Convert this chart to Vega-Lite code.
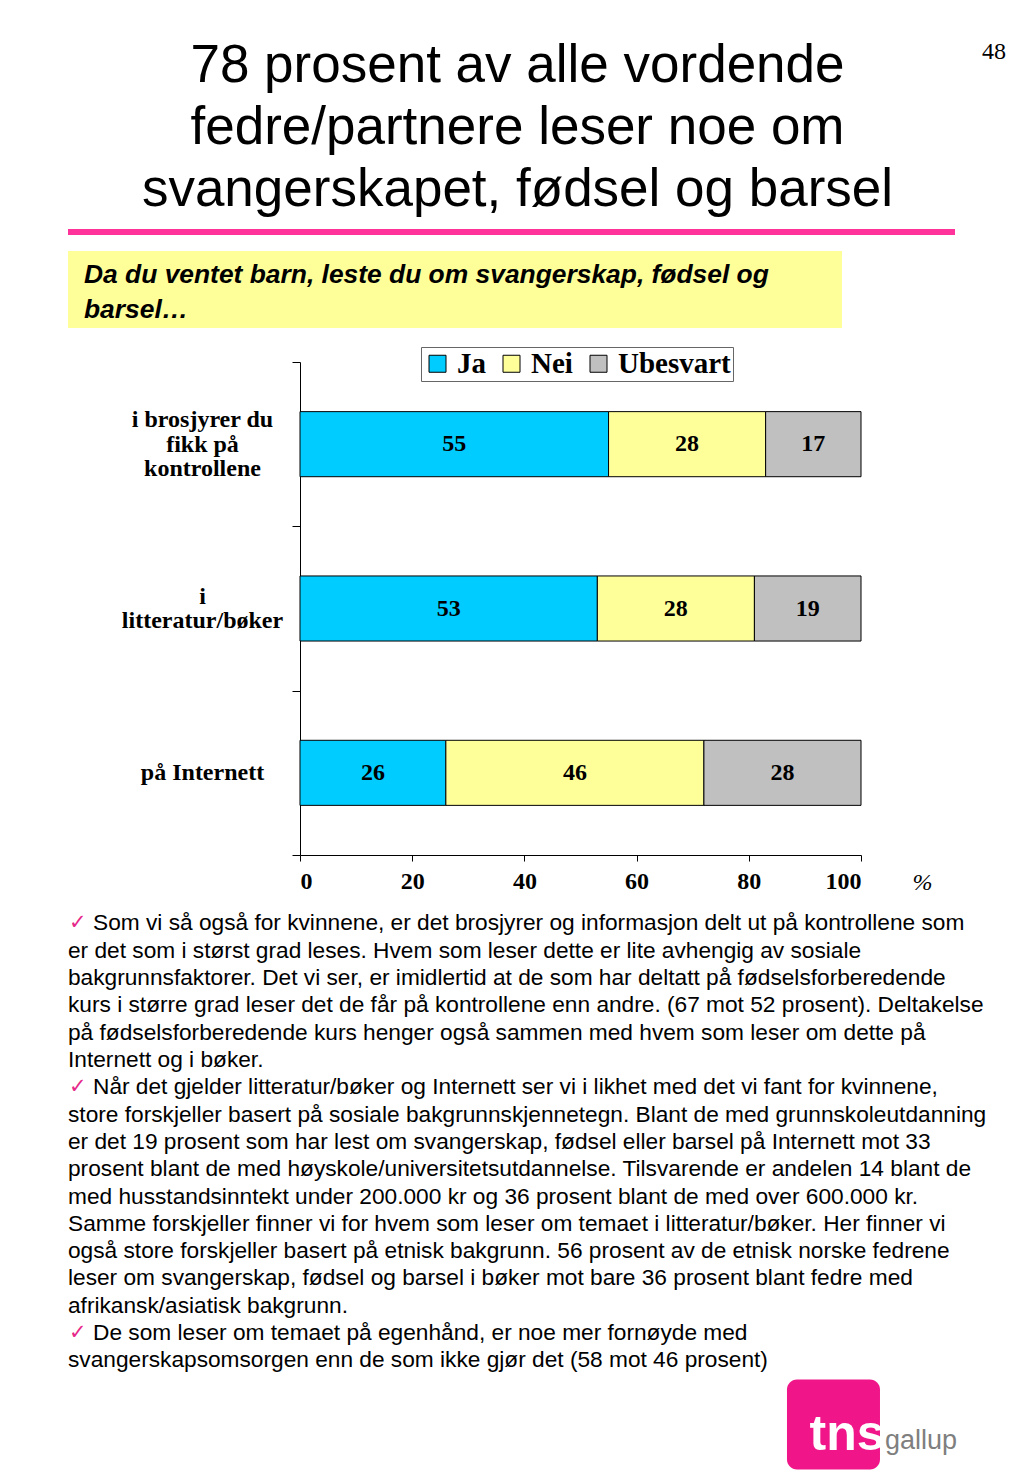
{
  "$schema": "https://vega.github.io/schema/vega-lite/v6.json",
  "background": "white",
  "padding": {"left": 68, "top": 40, "right": 0, "bottom": 0},
  "title": {"text": "48", "orient": "right", "anchor": "start", "angle": 0, "align": "left", "baseline": "top", "font": "Liberation Serif", "fontSize": 24, "fontWeight": "normal", "color": "black", "offset": -30},
  "config": {"view": {"stroke": null}},
  "datasets": {
    "bars": [
      {"category": "i brosjyrer du fikk på kontrollene", "response": "Ja", "value": 55},
      {"category": "i brosjyrer du fikk på kontrollene", "response": "Nei", "value": 28},
      {"category": "i brosjyrer du fikk på kontrollene", "response": "Ubesvart", "value": 17},
      {"category": "i litteratur/bøker", "response": "Ja", "value": 53},
      {"category": "i litteratur/bøker", "response": "Nei", "value": 28},
      {"category": "i litteratur/bøker", "response": "Ubesvart", "value": 19},
      {"category": "på Internett", "response": "Ja", "value": 26},
      {"category": "på Internett", "response": "Nei", "value": 46},
      {"category": "på Internett", "response": "Ubesvart", "value": 28}
    ],
    "prompt": [
      {"line": 1, "text": "Da du ventet barn, leste du om svangerskap, fødsel og"},
      {"line": 2, "text": "barsel…"}
    ],
    "notes": [
      {"line": 1, "bullet": true, "text": "Som vi så også for kvinnene, er det brosjyrer og informasjon delt ut på kontrollene som"},
      {"line": 2, "bullet": false, "text": "er det som i størst grad leses. Hvem som leser dette er lite avhengig av sosiale"},
      {"line": 3, "bullet": false, "text": "bakgrunnsfaktorer. Det vi ser, er imidlertid at de som har deltatt på fødselsforberedende"},
      {"line": 4, "bullet": false, "text": "kurs i større grad leser det de får på kontrollene enn andre. (67 mot 52 prosent). Deltakelse"},
      {"line": 5, "bullet": false, "text": "på fødselsforberedende kurs henger også sammen med hvem som leser om dette på"},
      {"line": 6, "bullet": false, "text": "Internett og i bøker."},
      {"line": 7, "bullet": true, "text": "Når det gjelder litteratur/bøker og Internett ser vi i likhet med det vi fant for kvinnene,"},
      {"line": 8, "bullet": false, "text": "store forskjeller basert på sosiale bakgrunnskjennetegn. Blant de med grunnskoleutdanning"},
      {"line": 9, "bullet": false, "text": "er det 19 prosent som har lest om svangerskap, fødsel eller barsel på Internett mot 33"},
      {"line": 10, "bullet": false, "text": "prosent blant de med høyskole/universitetsutdannelse. Tilsvarende er andelen 14 blant de"},
      {"line": 11, "bullet": false, "text": "med husstandsinntekt under 200.000 kr og 36 prosent blant de med over 600.000 kr."},
      {"line": 12, "bullet": false, "text": "Samme forskjeller finner vi for hvem som leser om temaet i litteratur/bøker. Her finner vi"},
      {"line": 13, "bullet": false, "text": "også store forskjeller basert på etnisk bakgrunn. 56 prosent av de etnisk norske fedrene"},
      {"line": 14, "bullet": false, "text": "leser om svangerskap, fødsel og barsel i bøker mot bare 36 prosent blant fedre med"},
      {"line": 15, "bullet": false, "text": "afrikansk/asiatisk bakgrunn."},
      {"line": 16, "bullet": true, "text": "De som leser om temaet på egenhånd, er noe mer fornøyde med"},
      {"line": 17, "bullet": false, "text": "svangerskapsomsorgen enn de som ikke gjør det (58 mot 46 prosent)"}
    ],
    "logo": [
      {"brand": "tns", "suffix": "gallup"}
    ]
  },
  "resolve": {"scale": {"color": "independent"}, "legend": {"color": "independent"}},
  "spacing": 18,
  "vconcat": [
    {
      "spacing": 14,
      "vconcat": [
        {
          "width": 887,
          "height": 6,
          "view": {"fill": "#FF3399", "stroke": null},
          "title": {
            "text": ["78 prosent av alle vordende", "fedre/partnere leser noe om", "svangerskapet, fødsel og barsel"],
            "anchor": "middle", "frame": "group", "font": "Liberation Sans", "fontSize": 53, "fontWeight": "normal",
            "lineHeight": 62, "offset": 9, "dx": 6, "color": "black"
          },
          "data": {"values": [{"t": ""}]},
          "mark": {"type": "text"},
          "encoding": {"text": {"field": "t"}}
        },
        {
          "width": 774,
          "height": 77,
          "view": {"fill": "#FFFF99", "stroke": null},
          "data": {"name": "prompt"},
          "mark": {"type": "text", "align": "left", "baseline": "middle", "dx": 16, "font": "Liberation Sans", "fontSize": 26.4, "fontStyle": "italic", "fontWeight": "bold", "color": "black"},
          "encoding": {
            "x": {"datum": 0, "type": "quantitative", "scale": {"domain": [0, 1]}, "axis": null},
            "y": {"field": "line", "type": "quantitative", "scale": {"domain": [0.31, 2.51], "reverse": true, "nice": false, "zero": false}, "axis": null},
            "text": {"field": "text"}
          }
        }
      ]
    },
    {
      "width": 793,
      "height": 493,
      "data": {"name": "bars"},
      "encoding": {
        "y": {
          "field": "category", "type": "nominal",
          "sort": ["i brosjyrer du fikk på kontrollene", "i litteratur/bøker", "på Internett"],
          "scale": {"paddingInner": 0, "paddingOuter": 0},
          "axis": {
            "title": null, "offset": -232, "tickBand": "extent", "tickSize": 8, "tickColor": "black", "domainColor": "black",
            "labelAlign": "center", "labelBaseline": "middle", "labelPadding": 90,
            "labelFont": "Liberation Serif", "labelFontWeight": "bold", "labelFontSize": 24, "labelColor": "black",
            "labelLineHeight": 24.5, "labelLimit": 400,
            "labelOffset": {"condition": [{"test": "datum.value == 'i brosjyrer du fikk på kontrollene'", "value": -24.5}, {"test": "datum.value == 'i litteratur/bøker'", "value": -12.25}], "value": 0},
            "labelExpr": "datum.label == 'i brosjyrer du fikk på kontrollene' ? ['i brosjyrer du', 'fikk på', 'kontrollene'] : datum.label == 'i litteratur/bøker' ? ['i', 'litteratur/bøker'] : datum.label"
          }
        }
      },
      "layer": [
        {
          "mark": {"type": "bar", "height": {"band": 0.396}, "stroke": "black", "strokeWidth": 1},
          "encoding": {
            "x": {
              "field": "value", "type": "quantitative", "stack": "zero",
              "scale": {"domain": [0, 100], "nice": false, "range": [232, 793]},
              "axis": {
                "values": [0, 20, 40, 60, 80, 100], "grid": false, "tickSize": 6, "tickColor": "black", "domainColor": "black",
                "labelFont": "Liberation Serif", "labelFontWeight": "bold", "labelFontSize": 24, "labelColor": "black", "labelPadding": 8,
                "title": "%", "titleFont": "Liberation Serif", "titleFontStyle": "italic", "titleFontWeight": "normal", "titleFontSize": 24,
                "titleColor": "black", "titleX": 854, "titleY": 27, "titleBaseline": "middle", "titleAlign": "center"
              }
            },
            "color": {
              "field": "response", "type": "nominal",
              "scale": {"domain": ["Ja", "Nei", "Ubesvart"], "range": ["#00CCFF", "#FFFF99", "#C0C0C0"]},
              "legend": {
                "orient": "none", "legendX": 353, "legendY": -15, "direction": "horizontal", "title": null,
                "padding": 2, "strokeColor": "#666666", "fillColor": "white",
                "symbolType": "square", "symbolSize": 289, "symbolStrokeColor": "black", "symbolStrokeWidth": 1,
                "labelFont": "Liberation Serif", "labelFontWeight": "bold", "labelFontSize": 29, "labelColor": "black",
                "labelOffset": 5, "columnPadding": 11
              }
            },
            "order": {"field": "response"}
          }
        },
        {
          "mark": {"type": "text", "font": "Liberation Serif", "fontWeight": "bold", "fontSize": 24, "baseline": "middle", "color": "black"},
          "encoding": {
            "x": {"field": "value", "type": "quantitative", "stack": "zero", "bandPosition": 0.5},
            "detail": {"field": "response"},
            "order": {"field": "response"},
            "text": {"field": "value"}
          }
        }
      ]
    },
    {
      "width": 920,
      "height": 557,
      "layer": [
        {
          "data": {"name": "notes"},
          "transform": [{"filter": "!datum.bullet"}],
          "mark": {"type": "text", "align": "left", "baseline": "middle", "font": "Liberation Sans", "fontSize": 22.7, "color": "black"},
          "encoding": {
            "x": {"datum": 0, "type": "quantitative", "scale": {"domain": [0, 100], "nice": false, "zero": false}, "axis": null},
            "y": {"field": "line", "type": "quantitative", "scale": {"domain": [0.8, 21.2], "reverse": true, "nice": false, "zero": false}, "axis": null},
            "text": {"field": "text"}
          }
        },
        {
          "data": {"name": "notes"},
          "transform": [{"filter": "datum.bullet"}],
          "mark": {"type": "text", "align": "left", "baseline": "middle", "dx": 25, "font": "Liberation Sans", "fontSize": 22.7, "color": "black"},
          "encoding": {
            "x": {"datum": 0, "type": "quantitative"},
            "y": {"field": "line", "type": "quantitative"},
            "text": {"field": "text"}
          }
        },
        {
          "data": {"name": "notes"},
          "transform": [{"filter": "datum.bullet"}],
          "mark": {"type": "text", "align": "left", "baseline": "middle", "dx": 1, "font": "DejaVu Sans", "fontSize": 21, "color": "#E6288A"},
          "encoding": {
            "x": {"datum": 0, "type": "quantitative"},
            "y": {"field": "line", "type": "quantitative"},
            "text": {"value": "✓"}
          }
        },
        {
          "data": {"name": "logo"},
          "mark": {"type": "rect", "color": "#F0168A", "cornerRadius": 10},
          "encoding": {
            "x": {"datum": 78.15, "type": "quantitative"},
            "x2": {"datum": 88.26},
            "y": {"datum": 17.7, "type": "quantitative"},
            "y2": {"datum": 21}
          }
        },
        {
          "data": {"name": "logo"},
          "mark": {"type": "text", "align": "left", "baseline": "alphabetic", "font": "Liberation Sans", "fontWeight": "bold", "fontSize": 50, "color": "white"},
          "encoding": {
            "x": {"datum": 80.6, "type": "quantitative"},
            "y": {"datum": 20.27, "type": "quantitative"},
            "text": {"field": "brand"}
          }
        },
        {
          "data": {"name": "logo"},
          "mark": {"type": "text", "align": "left", "baseline": "alphabetic", "font": "Liberation Sans", "fontSize": 27, "color": "#7F7F7F"},
          "encoding": {
            "x": {"datum": 88.8, "type": "quantitative"},
            "y": {"datum": 20.23, "type": "quantitative"},
            "text": {"field": "suffix"}
          }
        }
      ]
    }
  ]
}
